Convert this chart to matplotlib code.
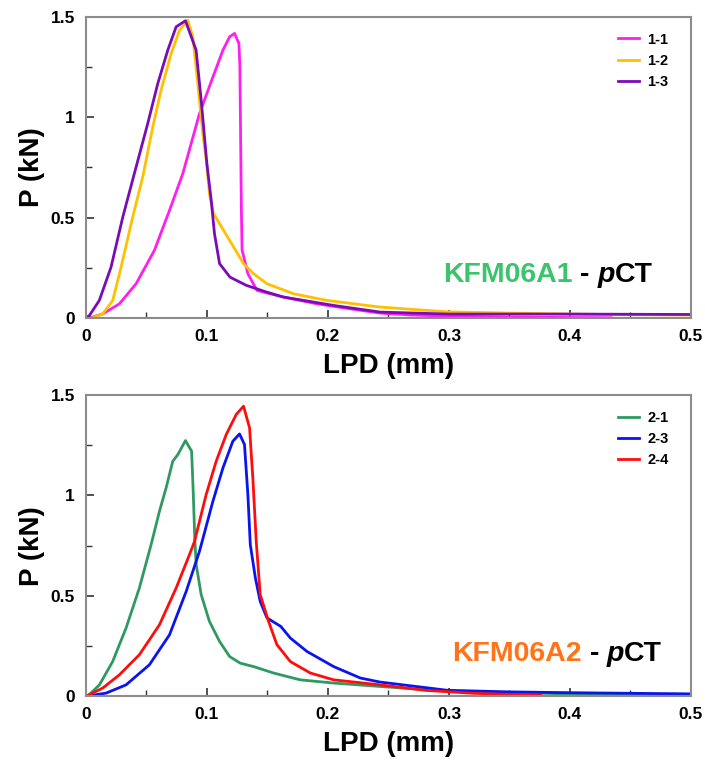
import matplotlib
matplotlib.use("Agg")
import matplotlib.pyplot as plt

plt.rcParams['font.family'] = ['Liberation Sans', 'DejaVu Sans']

# Top panel - KFM06A1
X_11 = [0, 0.006, 0.0138, 0.0276, 0.0414, 0.0565, 0.069, 0.08, 0.0938, 0.1049, 0.1132, 0.1187, 0.1228,
        0.1264, 0.1272, 0.1278, 0.1284, 0.129, 0.1338, 0.1413, 0.163, 0.191, 0.2185, 0.243, 0.27, 0.3,
        0.35, 0.4, 0.434]
Y_11 = [0, 0.006, 0.021, 0.071, 0.171, 0.337, 0.536, 0.719, 1.018, 1.2, 1.334, 1.4, 1.417,
        1.367, 1.25, 0.9, 0.55, 0.34, 0.221, 0.138, 0.105, 0.071, 0.046, 0.025, 0.015, 0.01,
        0.005, 0.003, 0.002]

X_12 = [0, 0.005, 0.0138, 0.0221, 0.029, 0.0386, 0.0469, 0.0552, 0.062, 0.0704, 0.0773, 0.0841, 0.0883,
        0.0924, 0.0966, 0.0999, 0.102, 0.1054, 0.1137, 0.122, 0.1302, 0.1385, 0.1496, 0.1716, 0.1992,
        0.243, 0.2986, 0.35, 0.4, 0.45, 0.5]
Y_12 = [0, 0, 0.021, 0.088, 0.254, 0.503, 0.703, 0.952, 1.134, 1.317, 1.433, 1.483, 1.4,
        1.167, 0.918, 0.76, 0.619, 0.52, 0.437, 0.354, 0.271, 0.221, 0.171, 0.121, 0.088,
        0.055, 0.031, 0.025, 0.02, 0.017, 0.015]

X_13 = [0, 0.0028, 0.011, 0.0207, 0.0304, 0.0414, 0.051, 0.0593, 0.0676, 0.0745, 0.0822, 0.091, 0.0952,
        0.0999, 0.1035, 0.1062, 0.1104, 0.119, 0.1325, 0.149, 0.163, 0.2047, 0.243, 0.3, 0.4, 0.5]
Y_13 = [0, 0.013, 0.088, 0.254, 0.503, 0.752, 0.968, 1.167, 1.334, 1.45, 1.48, 1.334, 1.085,
        0.769, 0.586, 0.42, 0.271, 0.204, 0.163, 0.13, 0.105, 0.063, 0.03, 0.02, 0.02, 0.018]

# Bottom panel - KFM06A2
X_21 = [0, 0.003, 0.0111, 0.0221, 0.0331, 0.0441, 0.0538, 0.0607, 0.0662, 0.0717, 0.0759, 0.0822, 0.0873,
        0.0887, 0.09, 0.0911, 0.0952, 0.102, 0.1104, 0.1187, 0.1275, 0.1385, 0.155, 0.177, 0.2047,
        0.243, 0.3, 0.4, 0.5]
Y_21 = [0, 0.01, 0.057, 0.174, 0.34, 0.539, 0.755, 0.921, 1.037, 1.17, 1.203, 1.273, 1.22,
        1.004, 0.771, 0.655, 0.506, 0.373, 0.273, 0.198, 0.165, 0.148, 0.116, 0.082, 0.066,
        0.049, 0.025, 0.012, 0.01]

X_23 = [0, 0.0166, 0.0331, 0.0524, 0.069, 0.0828, 0.0938, 0.1049, 0.1132, 0.1214, 0.1269, 0.131, 0.1338,
        0.1358, 0.14, 0.144, 0.1496, 0.161, 0.1689, 0.1827, 0.2047, 0.2268, 0.243, 0.2986, 0.35, 0.4,
        0.45, 0.5]
Y_23 = [0, 0.016, 0.057, 0.157, 0.306, 0.522, 0.722, 0.971, 1.137, 1.27, 1.306, 1.253, 1.004,
        0.755, 0.589, 0.472, 0.39, 0.348, 0.29, 0.223, 0.148, 0.091, 0.071, 0.03, 0.022, 0.018,
        0.015, 0.012]

X_24 = [0, 0.0138, 0.0276, 0.0441, 0.0607, 0.0745, 0.0855, 0.0897, 0.0993, 0.1076, 0.1159, 0.1242, 0.1302,
        0.1352, 0.1379, 0.1407, 0.144, 0.1509, 0.1578, 0.1689, 0.1854, 0.2047, 0.243, 0.28, 0.32, 0.376]
Y_24 = [0, 0.041, 0.107, 0.207, 0.356, 0.539, 0.705, 0.771, 1.004, 1.17, 1.303, 1.403, 1.444,
        1.336, 1.087, 0.771, 0.506, 0.373, 0.257, 0.173, 0.116, 0.082, 0.057, 0.03, 0.015, 0.005]

X_TICKS = [0, 0.1, 0.2, 0.3, 0.4, 0.5]
X_TICK_LABELS = ['0', '0.1', '0.2', '0.3', '0.4', '0.5']
Y_TICKS = [0, 0.5, 1, 1.5]
Y_TICK_LABELS = ['0', '0.5', '1', '1.5']


def style_axes(ax):
    ax.set_xlim(0, 0.5)
    ax.set_ylim(0, 1.5)
    ax.set_xticks(X_TICKS)
    ax.set_xticklabels(X_TICK_LABELS, fontweight='bold')
    ax.set_yticks(Y_TICKS)
    ax.set_yticklabels(Y_TICK_LABELS, fontweight='bold')
    ax.set_xticks([0.05, 0.15, 0.25, 0.35, 0.45], minor=True)
    ax.set_yticks([0.25, 0.75, 1.25], minor=True)
    ax.tick_params(which='both', direction='in', labelsize=12.5, colors='#333333', labelcolor='black')
    ax.tick_params(which='major', length=6, width=1.2)
    ax.tick_params(which='minor', length=4, width=1)
    ax.tick_params(axis='x', which='major', pad=8)
    ax.tick_params(axis='y', which='major', pad=8)
    for s in ax.spines.values():
        s.set_color('#8c8c8c')
        s.set_linewidth(1.5)
    ax.set_xlabel('LPD (mm)', fontsize=20, fontweight='bold', labelpad=6)
    ax.set_ylabel('P (kN)', fontsize=20, fontweight='bold', labelpad=4)
    ax.legend(loc='upper right', bbox_to_anchor=(0.973, 0.967), borderaxespad=0, frameon=False,
              prop={'size': 10.5, 'weight': 'bold'}, handlelength=1.4, handletextpad=0.6,
              labelspacing=0.5)


def sample_label(ax, name, color, x, y):
    t1 = ax.text(x, y, name, transform=ax.transAxes, color=color, fontsize=20.5,
                 fontweight='bold', va='baseline')
    t2 = ax.annotate(' - ', xy=(1, 0), xycoords=t1, va='bottom', fontsize=20.5,
                     fontweight='bold', color='black')
    t3 = ax.annotate('p', xy=(1, 0), xycoords=t2, va='bottom', fontsize=20.5,
                     fontweight='bold', fontstyle='italic', color='black')
    ax.annotate('CT', xy=(1, 0), xycoords=t3, va='bottom', fontsize=20.5,
                fontweight='bold', color='black')


fig = plt.figure(figsize=(7.05, 7.61), dpi=100)
ax1 = fig.add_axes([0.122, 0.582, 0.858, 0.396])
ax2 = fig.add_axes([0.122, 0.085, 0.858, 0.396])

ax1.plot(X_11, Y_11, color='#ff1ef0', lw=2, label='1-1')
ax1.plot(X_12, Y_12, color='#ffc000', lw=2, label='1-2')
ax1.plot(X_13, Y_13, color='#7a0cb8', lw=2, label='1-3')
style_axes(ax1)
sample_label(ax1, 'KFM06A1', '#3cc46c', 0.59, 0.12)

ax2.plot(X_21, Y_21, color='#2e9a62', lw=2, label='2-1')
ax2.plot(X_23, Y_23, color='#0a14f0', lw=2, label='2-3')
ax2.plot(X_24, Y_24, color='#ff0d0d', lw=2, label='2-4')
style_axes(ax2)
sample_label(ax2, 'KFM06A2', '#ff7418', 0.605, 0.116)

plt.savefig('out.png', dpi=100)
plt.close()
